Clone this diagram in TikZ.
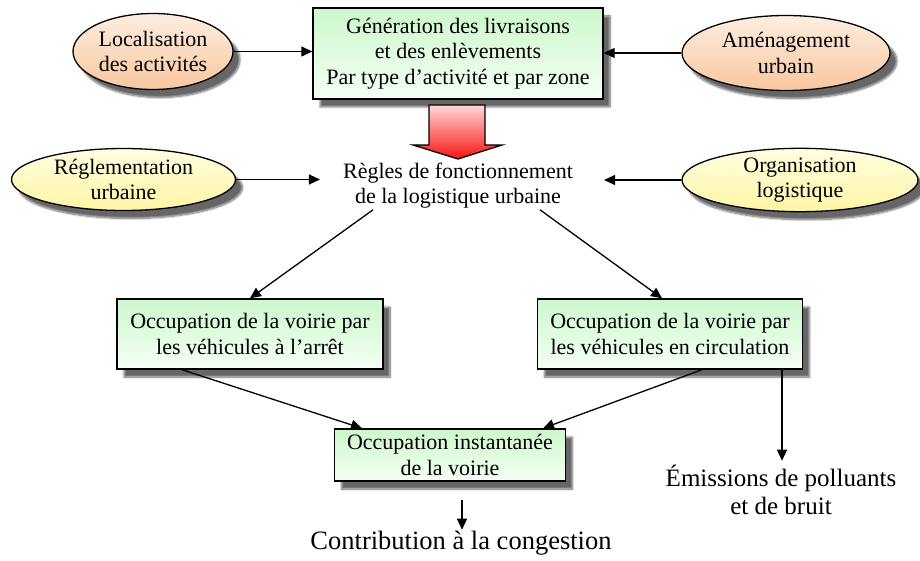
\documentclass[tikz,border=0pt]{standalone}
\usepackage{fontspec}
\setmainfont{Liberation Serif}
\usetikzlibrary{shapes.geometric,shadows.blur,arrows.meta}
\definecolor{boxtop}{RGB}{205,247,205}
\definecolor{boxbot}{RGB}{245,255,245}
\definecolor{orgtop}{RGB}{253,238,225}
\definecolor{orgbot}{RGB}{249,198,158}
\definecolor{yeltop}{RGB}{255,255,225}
\definecolor{yelbot}{RGB}{255,244,165}
\definecolor{redtop}{RGB}{255,215,215}
\definecolor{redbot}{RGB}{250,20,20}
\tikzset{
  shad/.style={blur shadow={shadow xshift=7pt, shadow yshift=-8pt, shadow blur steps=10, shadow opacity=60}},
  gbox/.style={rectangle, draw, line width=1.4pt, top color=boxtop, bottom color=boxbot, shad, align=center, inner sep=0pt, font=\fontsize{22}{25.5}\selectfont},
  oell/.style={ellipse, draw, line width=1.3pt, top color=orgtop, bottom color=orgbot, shad, align=center, inner sep=0pt, font=\fontsize{22}{25.5}\selectfont},
  yell/.style={ellipse, draw, line width=1.3pt, top color=yeltop, bottom color=yelbot, shad, align=center, inner sep=0pt, font=\fontsize{22}{25.5}\selectfont},
  plain/.style={align=center, inner sep=1pt},
  arr/.style={-{Triangle[length=11pt,width=10pt]}, line width=1.3pt},
}
\begin{document}
\begin{tikzpicture}[x=1pt,y=-1pt]
\useasboundingbox (0,0) rectangle (920,561);
% nodes
\node[gbox, minimum width=290pt, minimum height=91pt] (gen) at (458,53.5)
  {Génération des livraisons\\et des enlèvements\\Par type d’activité et par zone};
\node[oell, minimum width=160pt, minimum height=76pt] (loc) at (153,51.5) {Localisation\\des activités};
\node[oell, minimum width=208pt, minimum height=75pt] (amen) at (786,53) {Aménagement\\urbain};
\node[yell, minimum width=224pt, minimum height=62pt] (regl) at (123.5,179.5) {Réglementation\\urbaine};
\node[yell, minimum width=236pt, minimum height=63pt] (orga) at (800,180) {Organisation\\logistique};
\node[plain, font=\fontsize{22}{25}\selectfont] (regles) at (458,186) {Règles de fonctionnement\\de la logistique urbaine};
\node[gbox, minimum width=266pt, minimum height=70pt] (occl) at (250,334) {Occupation de la voirie par\\les véhicules à l’arrêt};
\node[gbox, minimum width=265pt, minimum height=70pt] (occr) at (670,334) {Occupation de la voirie par\\les véhicules en circulation};
\node[gbox, minimum width=231pt, minimum height=52pt] (inst) at (450,455) {Occupation instantanée\\de la voirie};
\node[plain, font=\fontsize{25}{28}\selectfont] (emis) at (781,490) {Émissions de polluants\\et de bruit};
\node[plain, font=\fontsize{26.5}{30}\selectfont] (contr) at (461,543) {Contribution à la congestion};
\coordinate (instout) at (462,500);
% big red arrow
\path[draw, line width=1.3pt, top color=redtop, bottom color=redbot, line join=miter]
  (429,105) -- (485,105) -- (485,145) -- (502,145) -- (458,159) -- (413,145) -- (429,145) -- cycle;
% connectors
\draw[arr] (loc.east) -- (loc.east -| gen.west);
\draw[arr] (amen.west) -- (amen.west -| gen.east);
\draw[arr] (regl.east) -- ([xshift=-22pt]regl.east -| regles.west);
\draw[arr] (orga.west) -- ([xshift=30pt]orga.west -| regles.east);
\draw[arr] ([xshift=-85pt]regles.south) -- (occl.north);
\draw[arr] ([xshift=82pt]regles.south) -- ([xshift=-8pt]occr.north);
\draw[arr] ([xshift=-68pt]occl.south) -- ([xshift=-88pt]inst.north);
\draw[arr] ([xshift=32pt]occr.south) -- ([xshift=93pt]inst.north);
\draw[arr] ([xshift=112pt]occr.south) -- ([xshift=112pt,yshift=-91pt]occr.south);
\draw[arr] (instout) -- (instout |- contr.north);
\end{tikzpicture}
\end{document}
